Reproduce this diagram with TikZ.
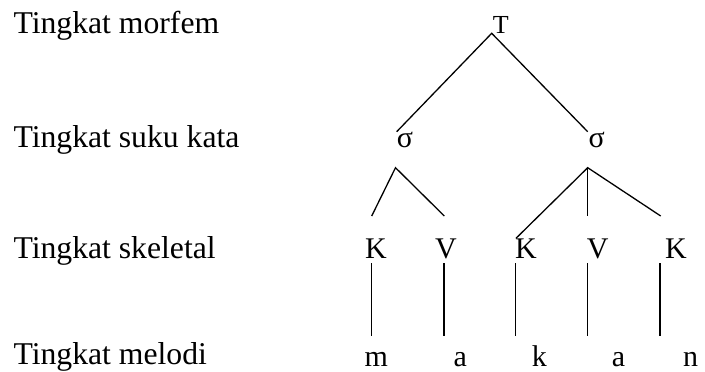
\documentclass[tikz,border=0pt]{standalone}
\usepackage{fontspec}
\setmainfont{Liberation Serif}
\begin{document}
\begin{tikzpicture}[x=1pt,y=-1pt,
  lbl/.style={anchor=base west,inner sep=0pt,font=\fontsize{31.7}{36}\selectfont},
  sym/.style={anchor=base west,inner sep=0pt,font=\fontsize{30}{36}\selectfont},
  edge/.style={line width=1.3pt}]
\useasboundingbox (0,0) rectangle (705,372);
% level labels
\node[lbl] (l1) at (13.3,33.3) {Tingkat morfem};
\node[lbl] (l2) at (13.3,147.3) {Tingkat suku kata};
\node[lbl] (l3) at (13.3,258.3) {Tingkat skeletal};
\node[lbl] (l4) at (13.3,364.5) {Tingkat melodi};
% tree symbols
\node[sym,font=\fontsize{26}{30}\selectfont] (T) at (492.7,33.3) {T};
\node[sym] (s1) at (396.7,147.5) {σ};
\node[sym] (s2) at (588.3,147.5) {σ};
\node[sym] (K1) at (365,258.3) {K};
\node[sym] (V1) at (435,258.3) {V};
\node[sym] (K2) at (515,258.3) {K};
\node[sym] (V2) at (586.7,258.3) {V};
\node[sym] (K3) at (665,258.3) {K};
\node[sym] (m1) at (364.5,366) {m};
\node[sym] (a1) at (453.3,366) {a};
\node[sym] (k1) at (531.7,366) {k};
\node[sym] (a2) at (611.7,366) {a};
\node[sym] (n1) at (683,366) {n};
% connector end points
\coordinate (Ta) at (491.7,33.3);
\coordinate (s1t) at (396.7,131.7);
\coordinate (s2t) at (587.7,131.7);
\coordinate (s1b) at (395.5,167.7);
\coordinate (s2b) at (587.7,167.7);
\coordinate (K1t) at (371.7,216);
\coordinate (V1t) at (444.3,216);
\coordinate (K2t) at (516,238.3);
\coordinate (V2t) at (587.7,216);
\coordinate (K3t) at (660.7,216);
\coordinate (K1b) at (371.7,263.3); \coordinate (m1t) at (371.7,336);
\coordinate (V1b) at (444,263.3);   \coordinate (a1t) at (444,336);
\coordinate (K2b) at (515.7,263.3); \coordinate (k1t) at (515.7,336);
\coordinate (V2b) at (587.7,263.3); \coordinate (a2t) at (587.7,336);
\coordinate (K3b) at (660,263.3);   \coordinate (n1t) at (660,336);
% connectors
\draw[edge] (s1t) -- (Ta) -- (s2t);
\draw[edge] (K1t) -- (s1b) -- (V1t);
\draw[edge] (K2t) -- (s2b) -- (K3t);
\draw[edge] (s2b) -- (V2t);
\draw[edge] (K1b) -- (m1t);
\draw[edge] (V1b) -- (a1t);
\draw[edge] (K2b) -- (k1t);
\draw[edge] (V2b) -- (a2t);
\draw[edge] (K3b) -- (n1t);
\end{tikzpicture}
\end{document}
